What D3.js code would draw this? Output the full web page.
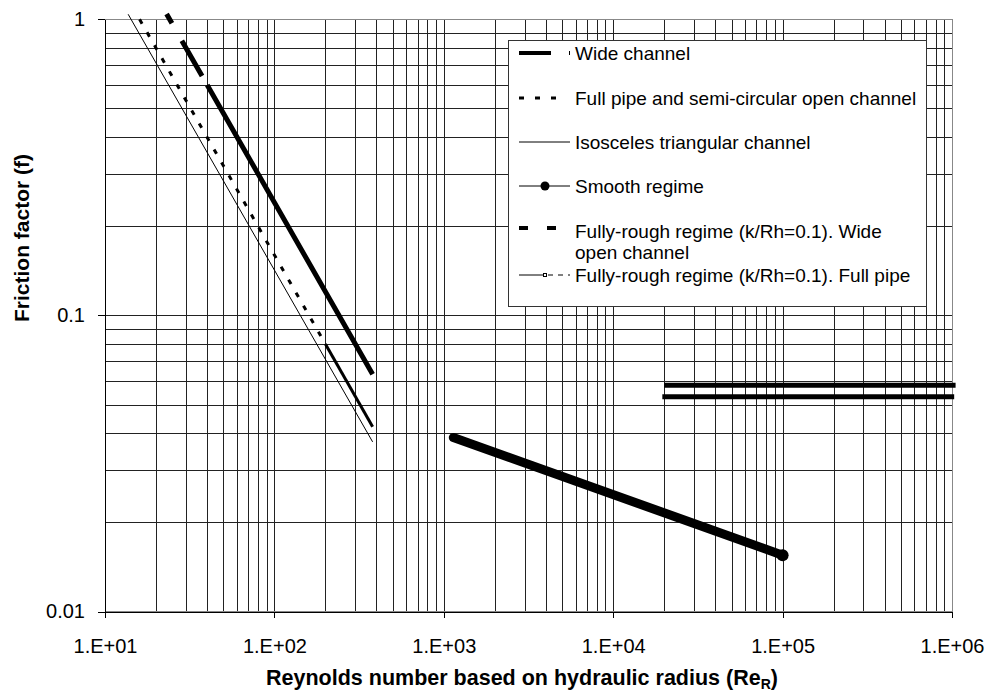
<!DOCTYPE html>
<html>
<head>
<meta charset="utf-8">
<script src="https://cdn.jsdelivr.net/npm/d3@7"></script>
<style>
  body { margin: 0; background: #fff; }
  text { font-family: "Liberation Sans", Arial, sans-serif; fill: #000; }
</style>
</head>
<body>
<div id="graph"></div>
<script>
const w = 990;
const h = 692;

// axis ticks
const xTicks = [1e1, 1e2, 1e3, 1e4, 1e5, 1e6];
const xTickLabels = ['1.E+01', '1.E+02', '1.E+03', '1.E+04', '1.E+05', '1.E+06'];
const yTicks = [0.01, 0.1, 1];
const yTickLabels = ['0.01', '0.1', '1'];

// series, [Re_R, f]
const wideChannel = [[23.1, 1.042], [380, 0.0633]];
const fullPipe = [[16, 1.0], [200, 0.08], [380, 0.0421]];
const triangular = [[13.7, 1.04], [380, 0.0374]];
const smoothRegime = [[1138, 0.0387], [1e5, 0.0155]];
const roughWide = [[2.0e4, 0.0581], [1.05e6, 0.0581]];
const roughPipe = [[1.95e4, 0.0531], [1.03e6, 0.0531]];

const legendLabels = [
  ['Wide channel'],
  ['Full pipe and semi-circular open channel'],
  ['Isosceles triangular channel'],
  ['Smooth regime'],
  ['Fully-rough regime (k/Rh=0.1). Wide', 'open channel'],
  ['Fully-rough regime (k/Rh=0.1). Full pipe']
];

const pLeft = 105, pRight = 952, pTop = 19.3, pBottom = 611.5;

const xScale = d3.scaleLog().domain([1e1, 1e6]).range([pLeft, pRight]);
const yScale = d3.scaleLog().domain([0.01, 1]).range([pBottom, pTop]);

const svg = d3.select('#graph')
              .append('svg')
              .attr('width', w)
              .attr('height', h);

// minor grid values
let xGrid = [], yGrid = [];
for (let p = 1; p < 6; p++) for (let m = 1; m < 10; m++) xGrid.push(m * Math.pow(10, p));
xGrid.push(1e6);
for (let p = -2; p < 0; p++) for (let m = 1; m < 10; m++) yGrid.push(m * Math.pow(10, p));
yGrid.push(1);

svg.append('g')
   .attr('transform', 'translate(0,' + pBottom + ')')
   .call(d3.axisBottom(xScale).tickValues(xGrid).tickSize(-(pBottom - pTop)).tickFormat(''))
   .call(g => g.select('.domain').remove())
   .call(g => g.selectAll('line').attr('stroke', '#222').attr('shape-rendering', 'crispEdges'));

svg.append('g')
   .attr('transform', 'translate(' + pLeft + ',0)')
   .call(d3.axisLeft(yScale).tickValues(yGrid).tickSize(-(pRight - pLeft)).tickFormat(''))
   .call(g => g.select('.domain').remove())
   .call(g => g.selectAll('line').attr('stroke', '#222').attr('shape-rendering', 'crispEdges'));

// plot border top/right
svg.append('rect')
   .attr('x', pLeft).attr('y', pTop)
   .attr('width', pRight - pLeft).attr('height', pBottom - pTop)
   .attr('fill', 'none').attr('stroke', '#888')
   .attr('shape-rendering', 'crispEdges');

// axes
svg.append('g')
   .attr('transform', 'translate(0,' + pBottom + ')')
   .call(d3.axisBottom(xScale).tickValues(xTicks).tickSize(6).tickSizeOuter(0)
           .tickFormat((d, i) => xTickLabels[i]))
   .call(g => g.selectAll('line, path').attr('stroke', '#000').attr('shape-rendering', 'crispEdges'))
   .call(g => g.selectAll('text').attr('dy', '1.6em').style('font-size', '20px')
               .style('font-family', '"Liberation Sans", Arial, sans-serif'));

svg.append('g')
   .attr('transform', 'translate(' + pLeft + ',0)')
   .call(d3.axisLeft(yScale).tickValues(yTicks).tickSize(7).tickSizeOuter(0)
           .tickFormat((d, i) => yTickLabels[i]))
   .call(g => g.selectAll('line, path').attr('stroke', '#000').attr('shape-rendering', 'crispEdges'))
   .call(g => g.selectAll('text').attr('x', -20).style('font-size', '20px')
               .style('font-family', '"Liberation Sans", Arial, sans-serif'));

const line = d3.line().x(d => xScale(d[0])).y(d => yScale(d[1]));

// series
svg.append('path')
   .datum(triangular)
   .attr('d', line)
   .attr('fill', 'none').attr('stroke', '#000').attr('stroke-width', 1);

svg.append('path')
   .datum(fullPipe.slice(0, 2))
   .attr('d', line)
   .attr('fill', 'none').attr('stroke', '#000').attr('stroke-width', 3)
   .attr('stroke-dasharray', '5,10');

svg.append('path')
   .datum(fullPipe.slice(1))
   .attr('d', line)
   .attr('fill', 'none').attr('stroke', '#000').attr('stroke-width', 3);

svg.append('path')
   .datum(wideChannel)
   .attr('d', line)
   .attr('fill', 'none').attr('stroke', '#000').attr('stroke-width', 5)
   .attr('stroke-dasharray', '10.7,20,40.7,10.4,2000');

svg.append('path')
   .datum(smoothRegime)
   .attr('d', line)
   .attr('fill', 'none').attr('stroke', '#000').attr('stroke-width', 9)
   .attr('stroke-linecap', 'round');

svg.append('circle')
   .attr('cx', xScale(smoothRegime[1][0]))
   .attr('cy', yScale(smoothRegime[1][1]))
   .attr('r', 6).attr('fill', '#000');

[roughWide, roughPipe].forEach(s => {
  svg.append('path')
     .datum(s)
     .attr('d', line)
     .attr('fill', 'none').attr('stroke', '#000').attr('stroke-width', 5);
});

// legend
const lg = svg.append('g');
lg.append('rect')
  .attr('x', 508.5).attr('y', 40.5)
  .attr('width', 418).attr('height', 266)
  .attr('fill', '#fff').attr('stroke', '#333').attr('stroke-width', 1);

const rowY = [53, 98, 142, 186, 231, 275];
const sx0 = 519, sx1 = 570, tx = 575;

legendLabels.forEach((lines, i) => {
  lines.forEach((t, j) => {
    lg.append('text')
      .attr('x', tx).attr('y', rowY[i] + j * 21)
      .attr('dy', '0.35em')
      .style('font-size', '19px')
      .text(t);
  });
});

// samples
lg.append('line').attr('x1', sx0).attr('x2', sx1 + 1).attr('y1', rowY[0]).attr('y2', rowY[0])
  .attr('stroke', '#000').attr('stroke-width', 4).attr('stroke-dasharray', '32,18,1,100');
lg.append('line').attr('x1', sx0).attr('x2', 561).attr('y1', rowY[1]).attr('y2', rowY[1])
  .attr('stroke', '#000').attr('stroke-width', 3).attr('stroke-dasharray', '5,11');
lg.append('line').attr('x1', sx0).attr('x2', sx1).attr('y1', rowY[2]).attr('y2', rowY[2])
  .attr('stroke', '#000').attr('stroke-width', 1);
lg.append('line').attr('x1', sx0).attr('x2', sx1).attr('y1', rowY[3]).attr('y2', rowY[3])
  .attr('stroke', '#000').attr('stroke-width', 1);
lg.append('circle').attr('cx', 545).attr('cy', rowY[3]).attr('r', 4.5).attr('fill', '#000');
lg.append('line').attr('x1', sx0).attr('x2', sx1).attr('y1', rowY[4] - 3).attr('y2', rowY[4] - 3)
  .attr('stroke', '#000').attr('stroke-width', 4).attr('stroke-dasharray', '9,19');
lg.append('line').attr('x1', sx0).attr('x2', 543).attr('y1', rowY[5]).attr('y2', rowY[5])
  .attr('stroke', '#000').attr('stroke-width', 1);
lg.append('rect').attr('x', 543.5).attr('y', rowY[5] - 1.5).attr('width', 3).attr('height', 3)
  .attr('fill', '#fff').attr('stroke', '#000').attr('stroke-width', 1);
lg.append('line').attr('x1', 548).attr('x2', sx1).attr('y1', rowY[5]).attr('y2', rowY[5])
  .attr('stroke', '#000').attr('stroke-width', 1).attr('stroke-dasharray', '5,5');

// axis titles
const xt = svg.append('text')
   .attr('x', 522).attr('y', 685)
   .attr('text-anchor', 'middle')
   .style('font-size', '21.5px').style('font-weight', 'bold');
xt.append('tspan').text('Reynolds number based on hydraulic radius (Re');
xt.append('tspan').attr('dy', 4).style('font-size', '14px').text('R');
xt.append('tspan').attr('dy', -4).text(')');

svg.append('text')
   .attr('transform', 'translate(29,238)rotate(-90)')
   .attr('text-anchor', 'middle')
   .style('font-size', '21px').style('font-weight', 'bold')
   .text('Friction factor (f)');
</script>
</body>
</html>
